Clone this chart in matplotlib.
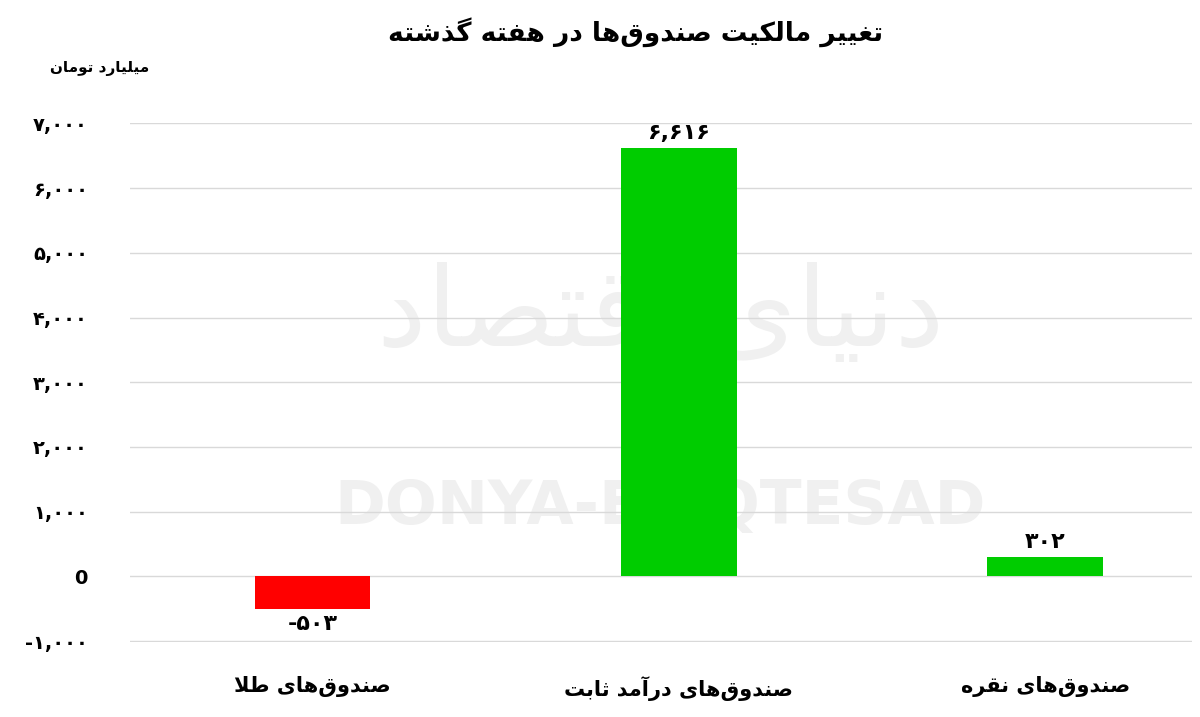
import matplotlib
matplotlib.use("Agg")
import matplotlib.pyplot as plt

FORMS = {
 'ا':('\uFE8D','\uFE8E',None,None),'آ':('\uFE81','\uFE82',None,None),
 'ب':('\uFE8F','\uFE90','\uFE91','\uFE92'),'ت':('\uFE95','\uFE96','\uFE97','\uFE98'),
 'ث':('\uFE99','\uFE9A','\uFE9B','\uFE9C'),'د':('\uFEA9','\uFEAA',None,None),
 'ذ':('\uFEAB','\uFEAC',None,None),'ر':('\uFEAD','\uFEAE',None,None),
 'ز':('\uFEAF','\uFEB0',None,None),'ش':('\uFEB5','\uFEB6','\uFEB7','\uFEB8'),
 'ص':('\uFEB9','\uFEBA','\uFEBB','\uFEBC'),'ط':('\uFEC1','\uFEC2','\uFEC3','\uFEC4'),
 'غ':('\uFECD','\uFECE','\uFECF','\uFED0'),'ف':('\uFED1','\uFED2','\uFED3','\uFED4'),
 'ق':('\uFED5','\uFED6','\uFED7','\uFED8'),
 'ل':('\uFEDD','\uFEDE','\uFEDF','\uFEE0'),'م':('\uFEE1','\uFEE2','\uFEE3','\uFEE4'),
 'ن':('\uFEE5','\uFEE6','\uFEE7','\uFEE8'),'ه':('\uFEE9','\uFEEA','\uFEEB','\uFEEC'),
 'و':('\uFEED','\uFEEE',None,None),'ی':('\uFEEF','\uFEF0','\uFEF3','\uFEF4'),
 'ک':('\uFB8E','\uFB8F','\uFB90','\uFB91'),'گ':('\uFB92','\uFB93','\uFB94','\uFB95'),
}

def shape(s):
    chars = list(s)
    n = len(chars)
    def joins_left(c):
        return c in FORMS and FORMS[c][2] is not None
    res = []
    for i, c in enumerate(chars):
        if c not in FORMS:
            if c != '\u200c':
                res.append(c)
            continue
        prev = chars[i-1] if i > 0 else None
        nxt = chars[i+1] if i + 1 < n else None
        jp = prev is not None and joins_left(prev)
        jn = nxt is not None and nxt in FORMS and joins_left(c)
        if c == 'ا' and prev == 'ل':
            pp = chars[i-2] if i > 1 else None
            res[-1] = '\uFEFC' if (pp is not None and joins_left(pp)) else '\uFEFB'
            continue
        iso, fin, ini, med = FORMS[c]
        if jp and jn: res.append(med)
        elif jp: res.append(fin)
        elif jn: res.append(ini)
        else: res.append(iso)
    return ''.join(reversed(res))

title = "تغییر مالکیت صندوق\u200cها در هفته گذشته"
unit = "میلیارد تومان"
categories = ["صندوق\u200cهای طلا", "صندوق\u200cهای درآمد ثابت", "صندوق\u200cهای نقره"]
values = [-503, 6616, 302]
value_labels = ["-۵۰۳", "۶,۶۱۶", "۳۰۲"]
ticks = [-1000, 0, 1000, 2000, 3000, 4000, 5000, 6000, 7000]
tick_labels = ["-۱,۰۰۰", "0", "۱,۰۰۰", "۲,۰۰۰", "۳,۰۰۰", "۴,۰۰۰", "۵,۰۰۰", "۶,۰۰۰", "۷,۰۰۰"]
colors = ["#ff0000", "#00cc00", "#00cc00"]

plt.rcParams['font.family'] = ['DejaVu Sans']
fig = plt.figure(figsize=(12, 7.17), dpi=100)
ax = fig.add_axes([0.108, 0.104, 0.885, 0.724])
x = list(range(len(values)))
ax.bar(x, values, width=0.315, color=colors, zorder=3)
ax.set_xlim(-0.5, 2.4)
ax.set_ylim(-1020, 7000)
ax.set_yticks(ticks)
ax.set_yticklabels(tick_labels, fontsize=14, fontweight='bold')
ax.grid(axis='y', color='#d9d9d9', lw=1, zorder=0)
ax.set_xticks(x)
ax.set_xticklabels([shape(c) for c in categories], fontsize=15, fontweight='bold')
ax.tick_params(axis='both', length=0)
ax.tick_params(axis='x', pad=24)
ax.tick_params(axis='y', pad=30)
for s in ax.spines.values():
    s.set_visible(False)
for xi, v, lab in zip(x, values, value_labels):
    if v >= 0:
        ax.text(xi, v + 80, lab, ha='center', va='bottom', fontsize=16, fontweight='bold')
    else:
        ax.text(xi, v - 80, lab, ha='center', va='top', fontsize=16, fontweight='bold')

ax.text(0.5, 0.26, "DONYA-E-EQTESAD", transform=ax.transAxes, ha='center', va='center',
        fontsize=44, fontweight='bold', color='#f0f0f0', zorder=1)
ax.text(0.5, 0.63, shape("دنیای اقتصاد"), transform=ax.transAxes, ha='center', va='center',
        fontsize=80, color='#f0f0f0', zorder=1)

fig.text(0.53, 0.955, shape(title), ha='center', va='center', fontsize=19, fontweight='bold')
fig.text(0.083, 0.905, shape(unit), ha='center', va='center', fontsize=11, fontweight='bold')
fig.savefig("out.png", dpi=100, facecolor='white')
